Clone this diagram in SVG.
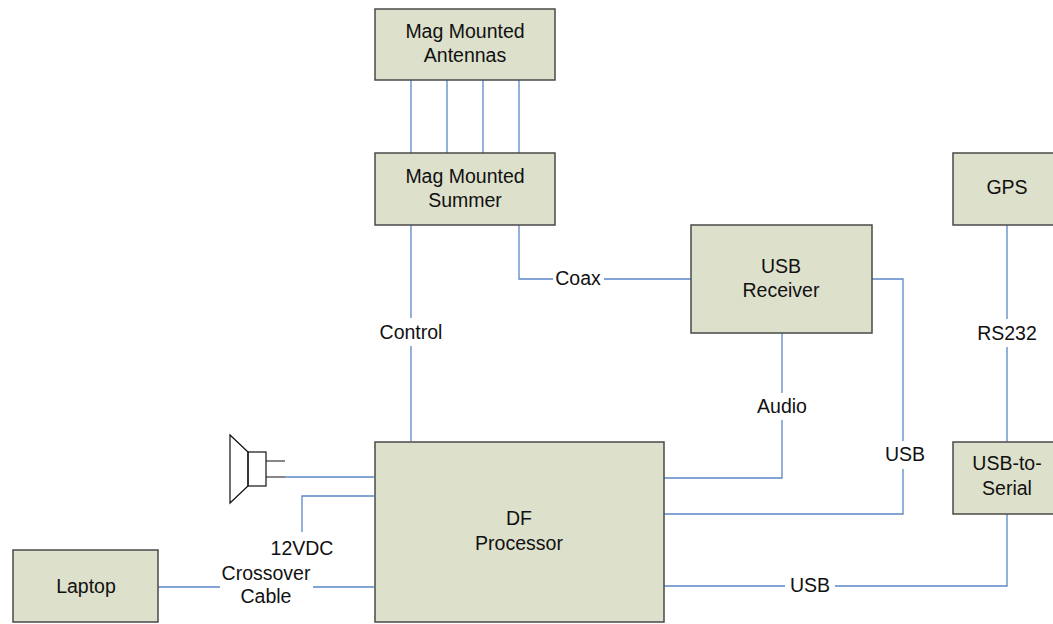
<svg xmlns="http://www.w3.org/2000/svg" width="1053" height="624" viewBox="0 0 1053 624">
<style>
.box{fill:#DDE0CB;stroke:#4a4a4a;stroke-width:1.5}
.t{font-family:"Liberation Sans",Arial,sans-serif;font-size:19.5px;fill:#111;text-anchor:middle}
.c{fill:none;stroke:#5B87C8;stroke-width:1.3}
.k{fill:none;stroke:#111;stroke-width:1.2}
</style>
<rect width="1053" height="624" fill="#fff"/>
<g id="connectors">
<path class="c" d="M411,80V153M447,80V153M483,80V153M519,80V153"/>
<path class="c" d="M411,225V318M411,346V441"/>
<path class="c" d="M519,225V279H553M604,279H691"/>
<path class="c" d="M872,279H903V441M903,469V514H664"/>
<path class="c" d="M782,333V393M782,420V478H664"/>
<path class="c" d="M664,586H785M835,586H1007V514"/>
<path class="c" d="M1007,225V319M1007,347V442"/>
<path class="c" d="M302,532V496H374"/>
<path class="c" d="M158,587H220M313,587H374"/>
<path class="c" d="M285,477H374"/>
</g>
<g id="speaker">
<path class="k" d="M248,452L230,435V503L248,486Z"/>
<rect class="k" x="248" y="452" width="18" height="34"/>
<path class="k" d="M266,461H285M266,477H285"/>
</g>
<g id="antennas"><rect class="box" x="375" y="9" width="180" height="71"/><text class="t" x="465" y="38">Mag Mounted</text><text class="t" x="465" y="62">Antennas</text></g>
<g id="summer"><rect class="box" x="375" y="153" width="180" height="72"/><text class="t" x="465" y="183">Mag Mounted</text><text class="t" x="465" y="207">Summer</text></g>
<g id="receiver"><rect class="box" x="691" y="225" width="181" height="108"/><text class="t" x="781" y="273">USB</text><text class="t" x="781" y="297">Receiver</text></g>
<g id="gps"><rect class="box" x="953" y="153" width="110" height="72"/><text class="t" x="1007" y="194">GPS</text></g>
<g id="usbserial"><rect class="box" x="953" y="442" width="110" height="72"/><text class="t" x="1007" y="470">USB-to-</text><text class="t" x="1007" y="495">Serial</text></g>
<g id="df"><rect class="box" x="375" y="442" width="289" height="180"/><text class="t" x="519" y="525">DF</text><text class="t" x="519" y="550">Processor</text></g>
<g id="laptop"><rect class="box" x="13" y="550" width="145" height="72"/><text class="t" x="86" y="593">Laptop</text></g>
<g id="labels">
<text class="t" x="411" y="339">Control</text>
<text class="t" x="578" y="285">Coax</text>
<text class="t" x="782" y="413">Audio</text>
<text class="t" x="905" y="461">USB</text>
<text class="t" x="810" y="592">USB</text>
<text class="t" x="1007" y="340">RS232</text>
<text class="t" x="302" y="555">12VDC</text>
<text class="t" x="266" y="580">Crossover</text>
<text class="t" x="266" y="603">Cable</text>
</g>
</svg>
